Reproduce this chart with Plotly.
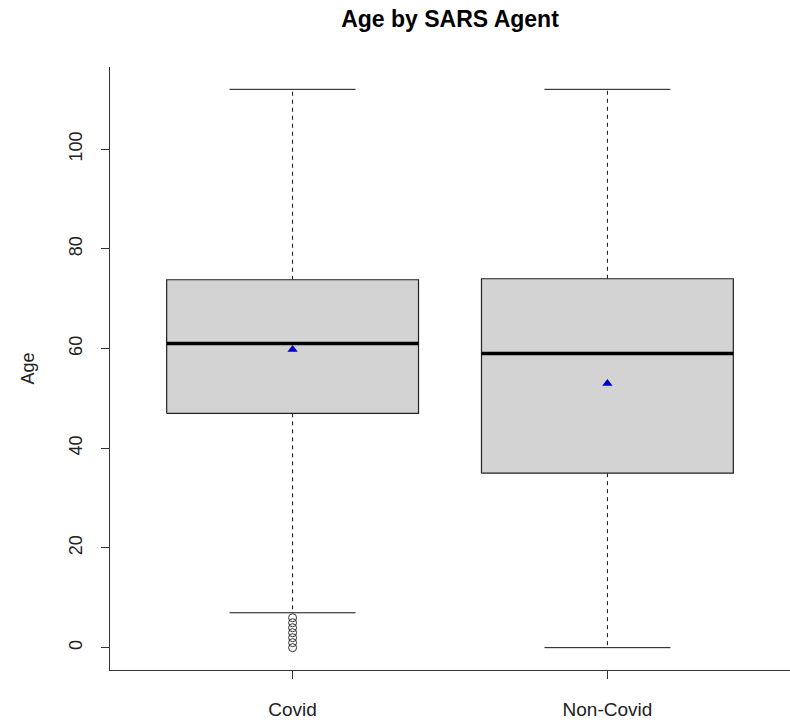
import plotly.graph_objects as go

categories = ["Covid", "Non-Covid"]
q1 = [47, 35]
median = [61, 59]
q3 = [73.8, 74]
lower_whisker = [7, 0]
upper_whisker = [112, 112]
means = [59.8, 53]
covid_outliers = [0, 1, 2, 3, 4, 5, 6]

BOX_HALF = 0.4
CAP_HALF = 0.2
FONT = "Liberation Sans"

fig = go.Figure()
positions = [i + 1 for i in range(len(categories))]

for i, p in enumerate(positions):
    # whiskers (dashed)
    fig.add_trace(go.Scatter(
        x=[p, p, None, p, p],
        y=[q3[i], upper_whisker[i], None, q1[i], lower_whisker[i]],
        mode="lines", line=dict(color="#111", width=1, dash="4px,4px"),
        hoverinfo="skip", showlegend=False))
    # caps
    fig.add_trace(go.Scatter(
        x=[p - CAP_HALF, p + CAP_HALF, None, p - CAP_HALF, p + CAP_HALF],
        y=[upper_whisker[i], upper_whisker[i], None, lower_whisker[i], lower_whisker[i]],
        mode="lines", line=dict(color="#111", width=1),
        hoverinfo="skip", showlegend=False))
    # box
    fig.add_trace(go.Scatter(
        x=[p - BOX_HALF, p + BOX_HALF, p + BOX_HALF, p - BOX_HALF, p - BOX_HALF],
        y=[q1[i], q1[i], q3[i], q3[i], q1[i]],
        mode="lines", fill="toself", fillcolor="#d3d3d3",
        line=dict(color="#222", width=1.2),
        hoverinfo="skip", showlegend=False))
    # median
    fig.add_trace(go.Scatter(
        x=[p - BOX_HALF, p + BOX_HALF], y=[median[i], median[i]],
        mode="lines", line=dict(color="black", width=3.5),
        hoverinfo="skip", showlegend=False))

# outliers
fig.add_trace(go.Scatter(
    x=[positions[0]] * len(covid_outliers), y=covid_outliers,
    mode="markers", marker=dict(symbol="circle-open", size=8, color="#333", line=dict(width=1)),
    showlegend=False))

# means
fig.add_trace(go.Scatter(
    x=positions, y=means, mode="markers",
    marker=dict(symbol="triangle-up", size=9, color="#0000cc"),
    showlegend=False))

fig.update_layout(
    width=790, height=720,
    margin=dict(l=110, r=0, t=67, b=48),
    plot_bgcolor="white", paper_bgcolor="white",
    font=dict(family=FONT, size=19, color="#222"),
    title=dict(text="<b>Age by SARS Agent</b>", x=0.5, xref="paper",
               y=1 - 19 / 720, yref="container", xanchor="center", yanchor="middle",
               font=dict(family=FONT, size=23, color="black")),
    xaxis=dict(range=[0.42, 2.58], tickvals=positions, ticktext=categories,
               showgrid=False, zeroline=False, showline=True, linecolor="#333", linewidth=1,
               ticks="outside", ticklen=8, tickcolor="#333",
               ticklabelstandoff=14, tickfont=dict(size=19, color="#222")),
    yaxis=dict(range=[-4.48, 116.48], tickvals=[0, 20, 40, 60, 80, 100],
               showgrid=False, zeroline=False, showline=True, linecolor="#333", linewidth=1,
               ticks="outside", ticklen=8, tickcolor="#333", tickangle=-90,
               ticklabelstandoff=12, tickfont=dict(size=18, color="#222"),
               title=dict(text="Age", standoff=26, font=dict(size=18, color="#222"))),
)

fig.write_html("out.html")
